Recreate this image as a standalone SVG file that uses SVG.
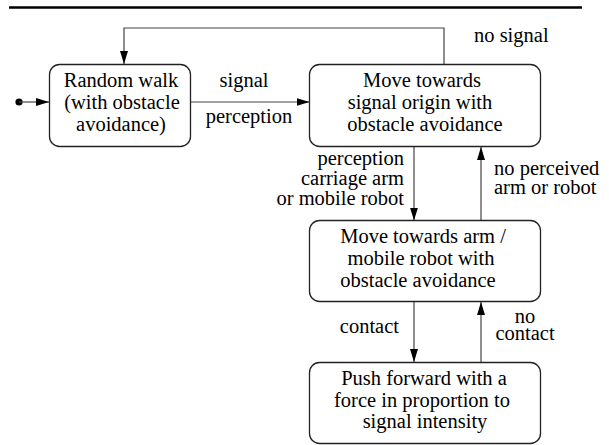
<svg xmlns="http://www.w3.org/2000/svg" width="609" height="445" viewBox="0 0 609 445">
  <style>
    .box { fill: #ffffff; stroke: #222222; stroke-width: 1.3; }
    .edge { fill: none; stroke: #444444; stroke-width: 1.2; marker-end: url(#arrow); }
    .lbl { font-family: 'Liberation Serif', 'Times New Roman', serif; font-size: 20.5px; fill: #000000; }
    .mid { text-anchor: middle; }
    .end { text-anchor: end; }
  </style>
  <defs>
    <marker id="arrow" markerUnits="userSpaceOnUse" markerWidth="14" markerHeight="9" refX="13" refY="4" orient="auto">
      <path d="M0,0 L13,4 L0,8 z" fill="#000000"/>
    </marker>
  </defs>
  <rect x="0" y="0" width="609" height="445" fill="#ffffff"/>
  <line x1="9" y1="7.5" x2="582" y2="7.5" stroke="#000000" stroke-width="2.6"/>

  <g id="connectors">
    <circle cx="19" cy="102" r="3.6" fill="#000000"/>
    <line class="edge" x1="19" y1="102" x2="49" y2="102"/>
    <line class="edge" x1="191" y1="102" x2="309.5" y2="102"/>
    <polyline class="edge" points="444,64.5 444,28 124,28 124,64"/>
    <line class="edge" x1="414" y1="147" x2="414" y2="220.5"/>
    <line class="edge" x1="481" y1="220.5" x2="481" y2="147"/>
    <line class="edge" x1="414" y1="302" x2="414" y2="362"/>
    <line class="edge" x1="481" y1="362" x2="481" y2="302"/>
    <g class="lbl">
      <text class="mid" x="244" y="87">signal</text>
      <text class="mid" x="249" y="123">perception</text>
      <text x="474" y="42">no signal</text>
      <text class="end" x="404" y="165">perception</text>
      <text class="end" x="404" y="185">carriage arm</text>
      <text class="end" x="404" y="205">or mobile robot</text>
      <text x="494" y="175">no perceived</text>
      <text x="494" y="194">arm or robot</text>
      <text class="end" x="399" y="333">contact</text>
      <text class="mid" x="525" y="323">no</text>
      <text class="mid" x="525" y="340">contact</text>
    </g>
  </g>

  <g id="random-walk" class="lbl mid">
    <rect class="box" x="49.5" y="64.5" width="141" height="82" rx="10" ry="10"/>
    <text x="121" y="87">Random walk</text>
    <text x="122" y="109">(with obstacle</text>
    <text x="121" y="131">avoidance)</text>
  </g>

  <g id="move-signal" class="lbl mid">
    <rect class="box" x="309.5" y="64.5" width="231" height="82" rx="10" ry="10"/>
    <text x="422" y="87">Move towards</text>
    <text x="420" y="109">signal origin with</text>
    <text x="425" y="131">obstacle avoidance</text>
  </g>

  <g id="move-arm" class="lbl mid">
    <rect class="box" x="309.5" y="220.5" width="231" height="81" rx="10" ry="10"/>
    <text x="423" y="243">Move towards arm /</text>
    <text x="421" y="265">mobile robot with</text>
    <text x="418" y="287">obstacle avoidance</text>
  </g>

  <g id="push" class="lbl mid">
    <rect class="box" x="309.5" y="362.5" width="231" height="81" rx="10" ry="10"/>
    <text x="424" y="385">Push forward with a</text>
    <text x="422" y="407">force in proportion to</text>
    <text x="425" y="428">signal intensity</text>
  </g>
</svg>
